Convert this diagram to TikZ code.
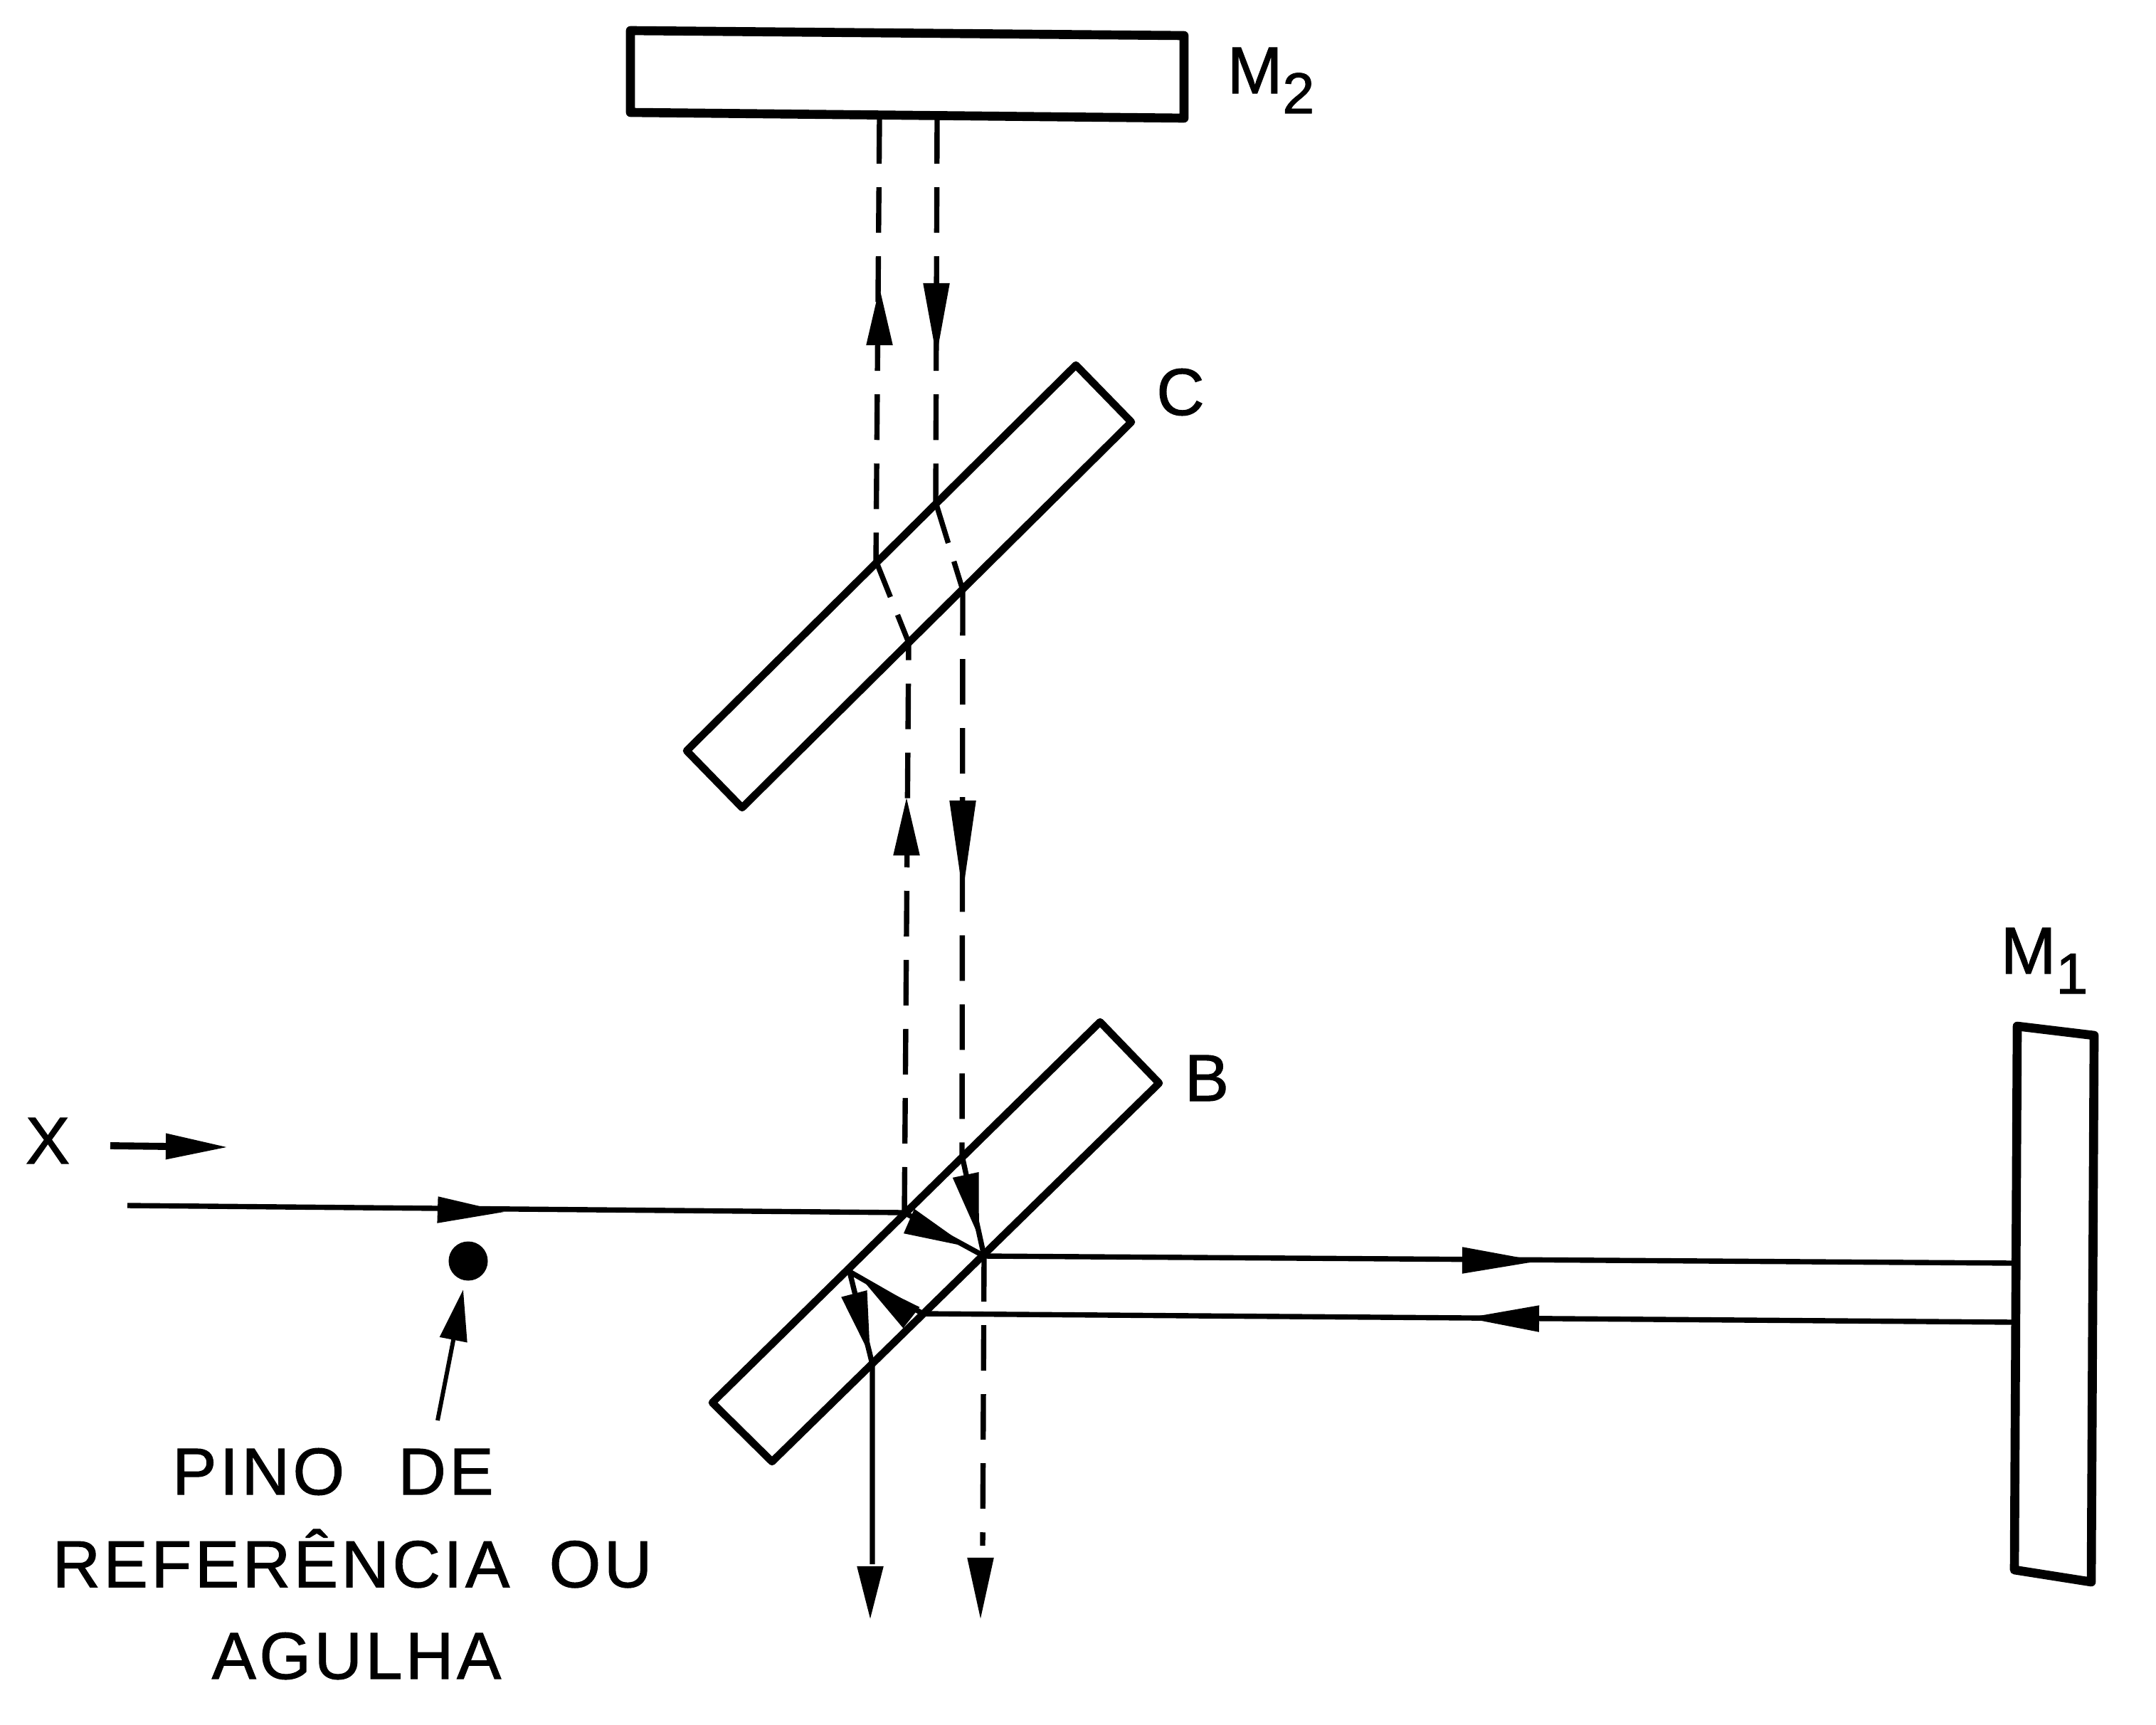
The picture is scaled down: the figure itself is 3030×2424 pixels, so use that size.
\documentclass[tikz,border=0pt]{standalone}
\usepackage{fontspec}
\setmainfont[LetterSpace=5,FakeBold=1.2]{Liberation Sans}
\usetikzlibrary{arrows.meta}
\tikzset{
  plate/.style = {line width = 3pt, line join = round},
  mirror/.style = {line width = 3.6pt, line join = round},
  solidray/.style = {line width = 2.1pt},
  dashray/.style = {line width = 2.1pt, dash pattern = on 0.64cm off 0.33cm},
  innerray/.style = {line width = 2.1pt, dash pattern = on 0.42cm off 0.27cm on 0.6cm off 0.3cm},
  head/.style = {line width = 1.5pt, -{Triangle[length = #1, width = 0.36cm]}},
  head/.default = 0.9cm,
  lbl/.style = {inner sep = 0, font = \fontsize{26.5pt}{30pt}\selectfont}
}
\begin{document}
\begin{tikzpicture}[x = 0.01cm, y = -0.01cm]
\useasboundingbox (0, 0) rectangle (3030, 2424);
% mirrors and plates
\draw[mirror] (886, 43) -- (1664, 50) -- (1664, 166) -- (886, 158) -- cycle;
\draw[mirror] (2835, 1442) -- (2943, 1455) -- (2939, 2223) -- (2831, 2206) -- cycle;
\draw[plate] (1512, 513) -- (1590, 593) -- (1043, 1135) -- (965, 1055) -- cycle;
\draw[plate] (1546, 1436) -- (1629, 1522) -- (1085, 2054) -- (1001, 1971) -- cycle;
% ray points
\coordinate (in) at (179, 1694);
\coordinate (bA) at (1271, 1704);
\coordinate (bB) at (1383, 1765);
\coordinate (bC) at (1352, 1624);
\coordinate (bD) at (1297, 1846);
\coordinate (bE) at (1194, 1787);
\coordinate (bF) at (1226, 1917);
\coordinate (cA) at (1231, 788);
\coordinate (cB) at (1315, 706);
\coordinate (cC) at (1277, 903);
\coordinate (cD) at (1353, 829);
\coordinate (mA) at (1236, 166);
\coordinate (mB) at (1317, 166);
\coordinate (mC) at (2831, 1775);
\coordinate (mD) at (2831, 1858);
\coordinate (outA) at (1226, 2198);
\coordinate (outB) at (1381, 2172);
% rays
\draw[solidray] (in) -- (bA) -- (bB) -- (mC);
\draw[solidray] (mD) -- (bD) -- (bE) -- (bF) -- (outA);
\draw[solidray] (bC) -- (bB);
\draw[dashray] (mA) -- (cA);
\draw[dashray] (mB) -- (cB);
\draw[innerray] (cC) -- (cA);
\draw[innerray] (cD) -- (cB);
\draw[dashray] (bA) -- (cC);
\draw[dashray] (cD) -- (bC);
\draw[dashray] (bB) -- (outB);
% arrow heads
\draw[head = 0.94cm] (615, 1700) -- (709, 1703);
\draw[head = 1.08cm] (2055, 1771) -- (2163, 1772);
\draw[head = 1.02cm] (2163, 1853) -- (2061, 1852);
\draw[head = 0.81cm] (1274, 1202) -- (1274, 1121);
\draw[head = 1.3cm] (1353, 1125) -- (1353, 1255);
\draw[head = 0.81cm] (1236, 485) -- (1236, 404);
\draw[head = 1.03cm] (1316, 398) -- (1316, 501);
\draw[head] (1358, 1655) -- (1376, 1739);
\draw[head] (1289, 1721) -- (1360, 1752);
\draw[head] (1261, 1836) -- (1210, 1796);
\draw[head] (1203, 1828) -- (1223, 1905);
\draw[head = 0.74cm] (1223, 2201) -- (1223, 2275);
\draw[head = 0.86cm] (1378, 2189) -- (1378, 2275);
% pin and its label
\node[circle, fill, minimum size = 0.55cm, inner sep = 0] (pin) at (658, 1772) {};
\coordinate (pinfoot) at (615, 1996);
\draw[line width = 1.7pt, -{Triangle[length = 0.72cm, width = 0.38cm]}] (pinfoot) -- (651, 1812);
\node[lbl] (pinA) at (468, 2068) {PINO\hspace{0.45cm} DE};
\node[lbl] (pinB) at (495, 2190) {REFERÊNCIA\hspace{0.25cm} OU};
\node[lbl] (pinC) at (501, 2327) {AGULHA};
% beam direction
\node[lbl] (xlabel) at (67, 1603) {X};
\coordinate (xfoot) at (155, 1610);
\draw[line width = 2.8pt, -{Triangle[length = 0.88cm, width = 0.34cm]}] (xfoot) -- (321, 1612);
% names
\node[lbl] (cname) at (1659, 551) {C};
\node[lbl] (bname) at (1696, 1515) {B};
\node[lbl] (mtwo) at (1786, 113) {M\raisebox{-0.3em}{\fontsize{23pt}{24pt}\selectfont 2}};
\node[lbl] (mone) at (2873, 1350) {M\raisebox{-0.3em}{\fontsize{23pt}{24pt}\selectfont 1}};
\end{tikzpicture}
\end{document}
